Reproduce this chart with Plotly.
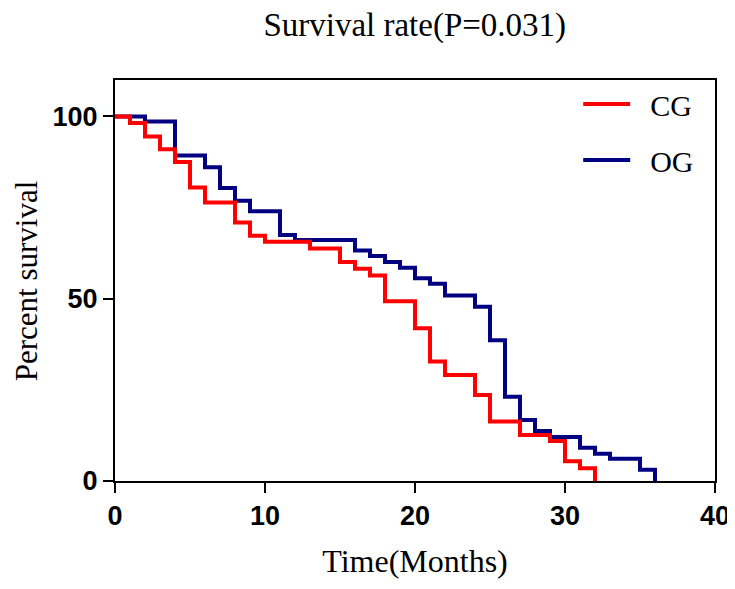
import plotly.graph_objects as go

# Kaplan-Meier step points
cg_months = [0, 1, 2, 3, 4, 5, 6, 8, 9, 10, 13, 15, 16, 17, 18, 20, 21, 22, 24, 25, 27, 29, 30, 31, 32]
cg_survival = [100, 98.2, 94.5, 91.0, 87.5, 80.5, 76.4, 70.9, 67.3, 65.6, 63.8, 60.1, 58.2, 56.4,
               49.3, 41.9, 32.8, 29.1, 23.6, 16.3, 12.6, 11.0, 5.4, 3.5, 0]

og_months = [0, 2, 4, 6, 7, 8, 9, 11, 12, 16, 17, 18, 19, 20, 21, 22, 24, 25, 26, 27, 28, 29, 31, 32, 33, 35, 36]
og_survival = [100, 98.6, 89.3, 86.1, 80.4, 76.9, 74.0, 67.5, 66.1, 63.2, 61.7, 60.1, 58.5, 55.6,
               54.1, 50.9, 47.8, 38.6, 23.1, 16.7, 13.7, 12.1, 9.1, 7.5, 6.1, 3.1, 0]

x_ticks = [0, 10, 20, 30, 40]
y_ticks = [0, 50, 100]

SERIF = "Liberation Serif, Times New Roman, serif"
SANS = "Liberation Sans, Arial, sans-serif"
GAP = "\u00a0\u00a0"  # extra room between legend line and label

fig = go.Figure()
fig.add_trace(go.Scatter(
    x=og_months, y=og_survival, name=GAP + "OG", mode="lines",
    line=dict(color="#000080", width=4, shape="hv"),
    legendrank=2, legendgroup="og",
))
fig.add_trace(go.Scatter(
    x=cg_months, y=cg_survival, name=GAP + "CG", mode="lines",
    line=dict(color="#FF0000", width=4, shape="hv"),
    legendrank=1, legendgroup="cg",
))

axis_common = dict(
    showgrid=False, zeroline=False, showline=True, linecolor="black", linewidth=2,
    mirror=True, ticks="outside", ticklen=10, tickwidth=2, tickcolor="black",
    tickfont=dict(family=SANS, size=27, color="black", weight="bold"),
    automargin=False,
)

fig.update_xaxes(
    range=[0, 40], tickvals=x_ticks,
    title=dict(text="Time(Months)", font=dict(family=SERIF, size=32, color="black"), standoff=19),
    **axis_common,
)
fig.update_yaxes(range=[0, 110], tickvals=y_ticks, **axis_common)

# y title as an annotation: the axis title can't sit further left than the margin allows
fig.add_annotation(
    text="Percent survival", textangle=-90, showarrow=False,
    xref="paper", yref="paper", x=-0.147, y=0.5, xanchor="center", yanchor="middle",
    font=dict(family=SERIF, size=31, color="black"),
)

# page body has an 8px margin, so the figure is sized to fit inside the window
fig.update_layout(
    width=727, height=581,
    margin=dict(l=107, r=20, t=72, b=108),
    paper_bgcolor="white", plot_bgcolor="white",
    title=dict(text="Survival rate(P=0.031)", x=0.5595, xanchor="center", y=0.972, yanchor="middle",
               font=dict(family=SERIF, size=33, color="black")),
    showlegend=True,
    legend=dict(x=0.772, xanchor="left", y=1.005, yanchor="top", bgcolor="rgba(0,0,0,0)",
                font=dict(family=SERIF, size=30, color="black"),
                traceorder="grouped", tracegroupgap=14, itemwidth=47),
)

fig.write_html("out.html")
